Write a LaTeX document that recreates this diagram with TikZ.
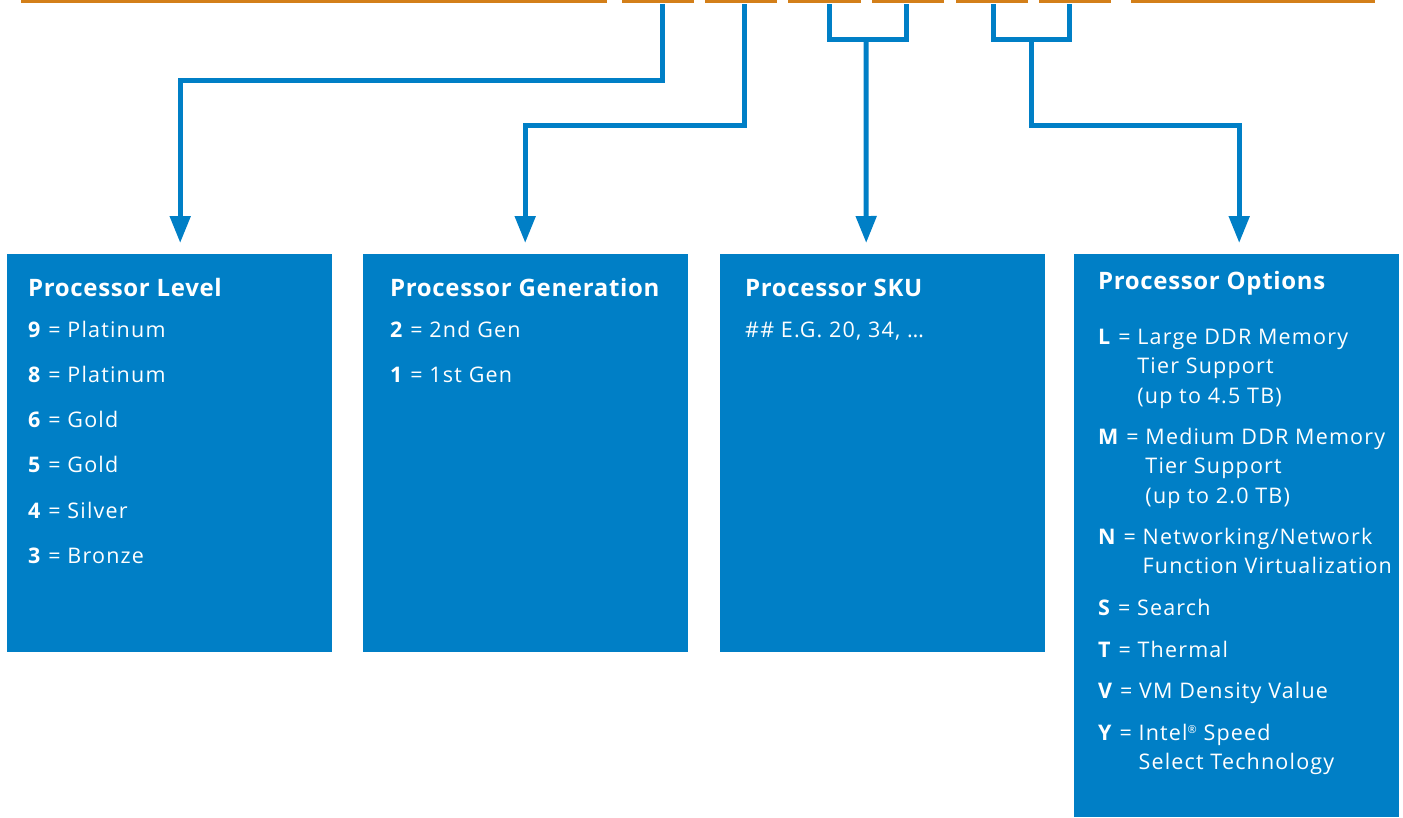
\documentclass[tikz,border=0pt]{standalone}
\usepackage{fontspec}
\setmainfont{Open Sans}
\newfontfamily\bodyfont{Open Sans}[LetterSpace=5.5]
\newfontfamily\titlefont{Open Sans}[LetterSpace=2.7]
\usetikzlibrary{arrows.meta}
\definecolor{ibox}{RGB}{0,127,198}
\definecolor{iorange}{RGB}{211,127,25}
\newcommand{\regmark}{\raisebox{7pt}{\fontsize{11}{11}\selectfont ®}}
\begin{document}
\begin{tikzpicture}[x=1pt,y=-1pt,
 panel/.style={fill=ibox, draw=none, inner sep=0pt, minimum width=325pt, anchor=north west},
 seg/.style={draw=iorange, line width=3pt},
 conn/.style={draw=ibox, line width=5pt},
 arr/.style={conn, -{Triangle[length=27pt,width=20pt]}},
 ttl/.style={text=white, anchor=base west, inner sep=0pt, font=\titlefont\fontsize{24}{28}\selectfont\bfseries},
 txt/.style={text=white, anchor=base west, inner sep=0pt, font=\bodyfont\fontsize{21.5}{29.5}\selectfont},
]
\useasboundingbox (0,0) rectangle (1403,817);
% top orange segments
\foreach \a/\b in {21/607,622/694,705/777,788/861,872/944,956/1028,1039/1111,1131/1375}
  \draw[seg] (\a,1.5) -- (\b,1.5);
% panels
\node[panel, minimum height=398pt] (lvl) at (7,254) {};
\node[panel, minimum height=398pt] (gen) at (363,254) {};
\node[panel, minimum height=398pt] (sku) at (720,254) {};
\node[panel, minimum height=563pt] (opt) at (1074,254) {};
% connector start points
\coordinate (c2) at (662,4);
\coordinate (c3) at (744,4);
\coordinate (c4a) at (829,4);
\coordinate (c4b) at (906,4);
\coordinate (c4m) at (866,39);
\coordinate (c6a) at (993,4);
\coordinate (c6b) at (1069,4);
\coordinate (c6m) at (1031,39);
% connectors
\draw[arr] (c2) -- (662,80) -| ([xshift=10.5pt,yshift=11pt]lvl.north);
\draw[arr] (c3) -- (744,125) -| ([xshift=-0.5pt,yshift=11pt]gen.north);
\draw[conn] (c4a) |- (906,39) -- (c4b);
\draw[arr] (c4m) -- ([xshift=-16.5pt,yshift=11pt]sku.north);
\draw[conn] (c6a) |- (1069,39) -- (c6b);
\draw[arr] (c6m) -- (1031,125) -| ([xshift=2.5pt,yshift=11pt]opt.north);
% panel 1
\node[ttl] (lvlt) at (28,296) {Processor Level};
\node[txt] (l9) at (28,337) {\textbf{9} = Platinum};
\node[txt] (l8) at (28,382) {\textbf{8} = Platinum};
\node[txt] (l6) at (28,427.5) {\textbf{6} = Gold};
\node[txt] (l5) at (28,472.5) {\textbf{5} = Gold};
\node[txt] (l4) at (28,518) {\textbf{4} = Silver};
\node[txt] (l3) at (28,563) {\textbf{3} = Bronze};
% panel 2
\node[ttl] (gent) at (390,296) {Processor Generation};
\node[txt] (g2) at (390,337) {\textbf{2} = 2nd Gen};
\node[txt] (g1) at (390,382) {\textbf{1} = 1st Gen};
% panel 3
\node[ttl] (skut) at (745,296) {Processor SKU};
\node[txt] (s1) at (745,337) {\#\# E.G. 20, 34, …};
% panel 4
\node[ttl] (optt) at (1098,289) {Processor Options};
\node[txt] (oL) at (1098,344) {\textbf{L} = \begin{tabular}[t]{@{}l@{}}Large DDR Memory\\Tier Support\\(up to 4.5 TB)\end{tabular}};
\node[txt] (oM) at (1098,444) {\textbf{M} = \begin{tabular}[t]{@{}l@{}}Medium DDR Memory\\Tier Support\\(up to 2.0 TB)\end{tabular}};
\node[txt] (oN) at (1098,544) {\textbf{N} = \begin{tabular}[t]{@{}l@{}}Networking/Network\\Function Virtualization\end{tabular}};
\node[txt] (oS) at (1098,615) {\textbf{S} = Search};
\node[txt] (oT) at (1098,657) {\textbf{T} = Thermal};
\node[txt] (oV) at (1098,698) {\textbf{V} = VM Density Value};
\node[txt] (oY) at (1098,740) {\textbf{Y} = \begin{tabular}[t]{@{}l@{}}Intel\regmark{} Speed\\Select Technology\end{tabular}};
\end{tikzpicture}
\end{document}
